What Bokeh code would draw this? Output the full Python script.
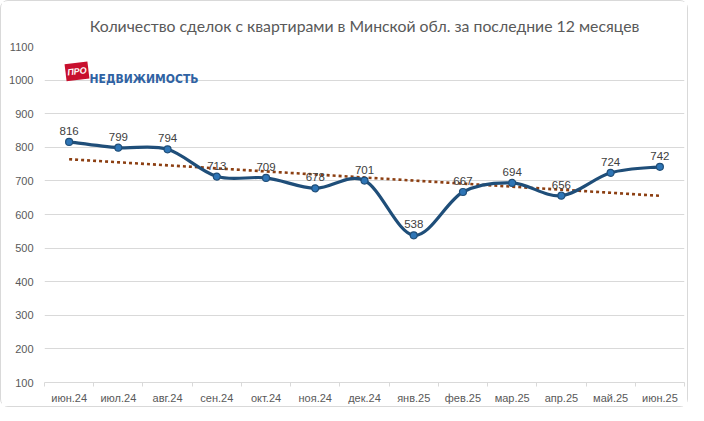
import numpy as np
from bokeh.plotting import figure
from bokeh.models import Range1d, FixedTicker, Label, ColumnDataSource
from bokeh.core.properties import value
from bokeh.embed import file_html
from bokeh.resources import INLINE

# ---- data ----
months = ["июн.24", "июл.24", "авг.24", "сен.24", "окт.24", "ноя.24", "дек.24",
          "янв.25", "фев.25", "мар.25", "апр.25", "май.25", "июн.25"]
deals = [816, 799, 794, 713, 709, 678, 701, 538, 667, 694, 656, 724, 742]
y_ticks = [100, 200, 300, 400, 500, 600, 700, 800, 900, 1000, 1100]
title_text = "Количество сделок с квартирами в Минской обл. за последние 12 месяцев"
logo_tag = "ПРО"
logo_text = "НЕДВИЖИМОСТЬ"

n = len(months)
xs = np.arange(n) + 0.5
ys = np.array(deals, dtype=float)

p = figure(frame_width=640, frame_height=336, output_backend="svg", toolbar_location=None,
           x_range=Range1d(0, n), y_range=Range1d(y_ticks[0], y_ticks[-1]),
           min_border_left=43, min_border_right=3, min_border_top=45, min_border_bottom=22,
           background_fill_color="white", border_fill_color="white")
p.outline_line_color = None
p.styles = {"border": "1px solid #d9d9d9", "border-radius": "8px"}

p.title.text = title_text
p.title.align = "center"
p.title.vertical_align = "top"
p.title.text_font = "Lato"
p.title.text_font_size = "15.8px"
p.title.text_font_style = "normal"
p.title.text_color = "#595959"
p.title.standoff = 20

# axes
p.xaxis.ticker = FixedTicker(ticks=list(xs), minor_ticks=list(range(n + 1)))
p.xaxis.major_label_overrides = {float(x): m for x, m in zip(xs, months)}
p.xaxis.major_tick_line_color = None
p.xaxis.major_tick_out = 0
p.xaxis.major_tick_in = 0
p.xaxis.minor_tick_line_color = "#d9d9d9"
p.xaxis.minor_tick_out = 4
p.xaxis.minor_tick_in = 0
p.xaxis.axis_line_color = "#d9d9d9"
p.xaxis.major_label_text_font = "Liberation Sans"
p.xaxis.major_label_text_font_size = "11px"
p.xaxis.major_label_text_color = "#595959"
p.xaxis.major_label_standoff = 5
p.xaxis.axis_label_standoff = 0

p.yaxis.ticker = FixedTicker(ticks=y_ticks)
p.yaxis.axis_line_color = None
p.yaxis.major_tick_line_color = None
p.yaxis.major_tick_out = 0
p.yaxis.major_tick_in = 0
p.yaxis.minor_tick_line_color = None
p.yaxis.major_label_text_font = "Liberation Sans"
p.yaxis.major_label_text_font_size = "11px"
p.yaxis.major_label_text_color = "#595959"
p.yaxis.major_label_standoff = 11

p.xgrid.grid_line_color = None
p.ygrid.grid_line_color = "#d9d9d9"
p.ygrid.grid_line_width = 1

# trend line (least squares through the data)
k, b = np.polyfit(xs, ys, 1)
p.line([xs[0], xs[-1]], [k * xs[0] + b, k * xs[-1] + b],
       line_color="#8c3f12", line_width=2.6, line_dash="3 3")

# smoothed series (Catmull-Rom -> cubic Bezier)
px = np.concatenate([[xs[0]], xs, [xs[-1]]])
py = np.concatenate([[ys[0]], ys, [ys[-1]]])
x0, y0 = xs[:-1], ys[:-1]
x1, y1 = xs[1:], ys[1:]
cx0 = x0 + (px[2:-1] - px[0:-3]) / 6.0
cy0 = y0 + (py[2:-1] - py[0:-3]) / 6.0
cx1 = x1 - (px[3:] - px[1:-2]) / 6.0
cy1 = y1 - (py[3:] - py[1:-2]) / 6.0
p.bezier(x0=x0, y0=y0, x1=x1, y1=y1, cx0=cx0, cy0=cy0, cx1=cx1, cy1=cy1,
         line_color="#1f4e79", line_width=3.2, line_cap="round")

src = ColumnDataSource(dict(x=xs, y=ys, lab=[str(v) for v in deals]))
p.scatter("x", "y", source=src, size=7, fill_color="#2e75b6", line_color="#1f4e79", line_width=1.2)
p.text("x", "y", text="lab", source=src, text_align="center", text_baseline="alphabetic",
       y_offset=-11, text_font=value("Liberation Sans"), text_font_size="11.5px", text_color="#404040")

# logo
p.rect(x=[0.66], y=[1026], width=23, height=17, width_units="screen", height_units="screen",
       angle=0.12, fill_color="#c8102e", line_color=None)
p.add_layout(Label(x=0.66, y=1026, text=logo_tag, text_align="center", text_baseline="middle",
                   angle=0.12, text_font="Liberation Sans", text_font_style="bold italic",
                   text_font_size="9px", text_color="white"))
p.add_layout(Label(x=0.914, y=1002, text=logo_text, text_align="left", text_baseline="alphabetic",
                   text_font="DejaVu Sans Condensed", text_font_style="bold",
                   text_font_size="12px", text_color="#2f62a3"))

open("out.html", "w").write(file_html(p, INLINE))
